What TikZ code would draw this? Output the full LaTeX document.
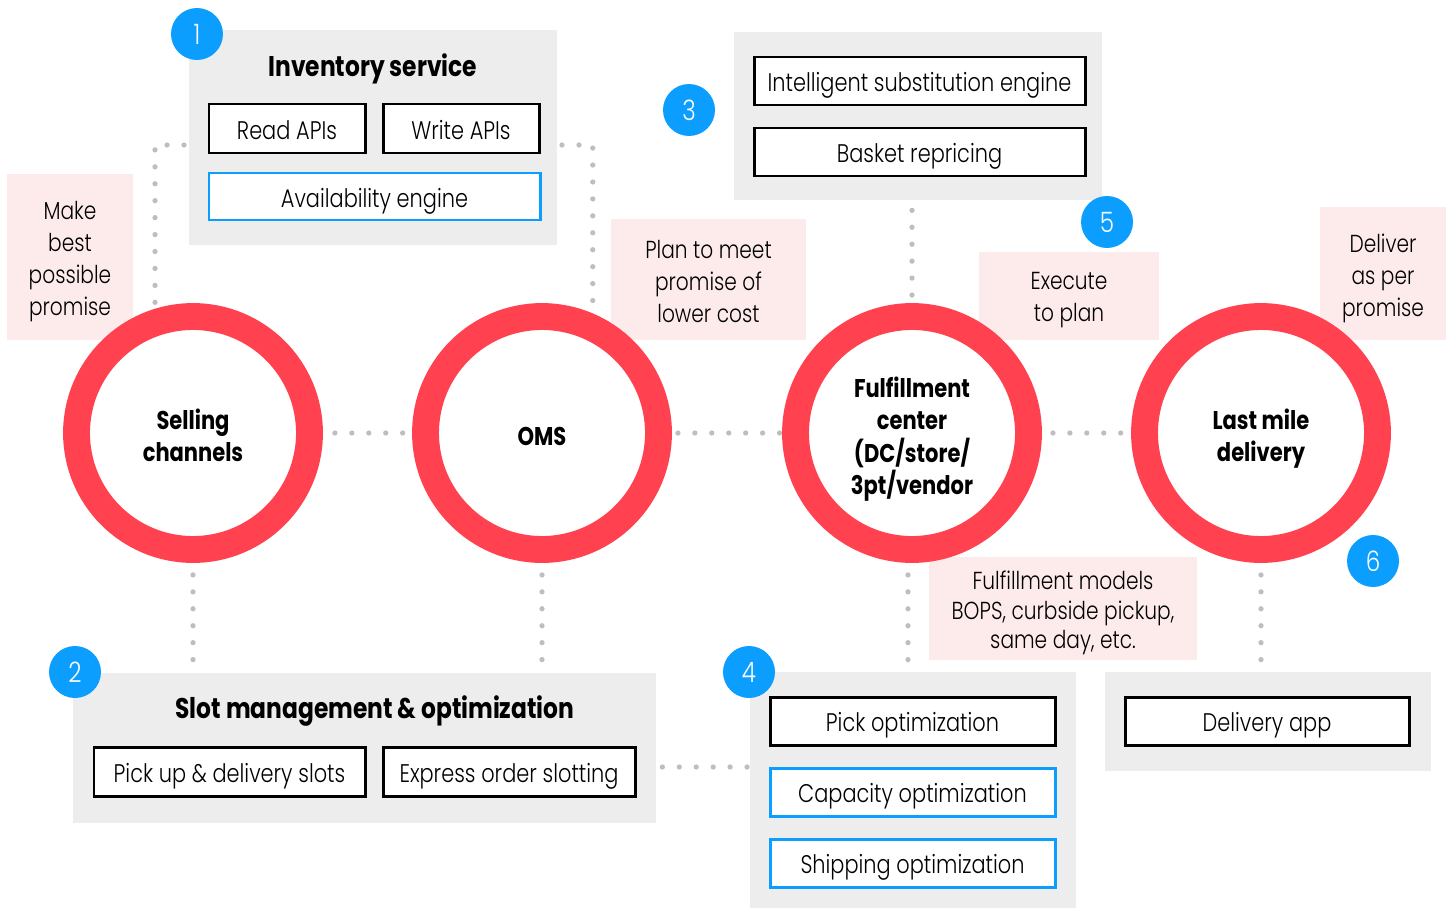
\documentclass[tikz,border=0pt]{standalone}
\usepackage{fontspec}
\setmainfont{Poppins}[UprightFont=* Light, BoldFont=* Bold, FakeStretch=0.82]
\usetikzlibrary{calc}
\definecolor{ringred}{RGB}{255,65,80}
\definecolor{badgeblue}{RGB}{12,158,255}
\definecolor{panelgray}{RGB}{237,237,237}
\definecolor{notepink}{RGB}{253,235,236}
\definecolor{dotgray}{RGB}{190,190,190}
\newcommand\txtfont{\fontsize{14.5}{18}\selectfont}
\newcommand\notefont{\fontsize{14}{18.1}\selectfont}
\newcommand\hdfont{\fontsize{16.2}{18}\selectfont\bfseries}
\newcommand\ringfont{\fontsize{14.6}{18.3}\selectfont\bfseries}
\newcommand\rbox[7]{\node[#6, minimum width={(#4-#2)*0.02cm}, minimum height={(#5-#3)*0.02cm}] (#1) at ({(#2+#4)/2},{(#3+#5)/2}) {#7};}
\tikzset{
  panel/.style={fill=panelgray, draw=none, inner sep=0pt},
  item/.style={draw=black, fill=white, line width=1.7pt, inner sep=0pt, font=\txtfont, text height=12.3pt, text depth=0pt},
  blueitem/.style={item, draw=badgeblue},
  note/.style={fill=notepink, draw=none, inner sep=0pt, align=center, font=\notefont},
  notetext/.style={inner sep=0pt, align=center, font=\notefont, execute at begin node=\strut, execute at end node=\strut},
  ring/.style={circle, draw=ringred, line width=15.3pt, fill=white, minimum size=4.66cm, inner sep=0pt},
  ringtext/.style={inner sep=0pt, align=center, font=\ringfont, execute at begin node=\strut, execute at end node=\strut},
  badge/.style={circle, fill=badgeblue, text=white, minimum size=1.04cm, inner sep=0pt, font=\fontsize{16}{18}\selectfont},
  dots/.style={dotgray, line width=3pt, line cap=round, dash pattern=on 0pt off 9.64pt},
  title/.style={inner sep=0pt, font=\hdfont, text height=11.3pt, text depth=0pt}
}
\begin{document}
\begin{tikzpicture}[x=0.02cm, y=-0.02cm]
\useasboundingbox (0,0) rectangle (1452,909);
% panels
\rbox{inv}{189}{30}{557}{245}{panel}{}
\rbox{subst}{734}{32}{1102}{200}{panel}{}
\rbox{slot}{73}{673}{656}{823}{panel}{}
\rbox{opt}{750}{672}{1076}{908}{panel}{}
\rbox{dlv}{1105}{672}{1431}{771}{panel}{}
% titles
\node[title] (invt) at (373,67) {Inventory service};
\node[title] (slott) at (375,709) {Slot management \& optimization};
% items
\rbox{read}{209}{104}{365}{153}{item}{Read APIs}
\rbox{write}{383}{104}{539}{153}{item}{Write APIs}
\rbox{avail}{209}{173}{540}{220}{blueitem}{Availability engine}
\rbox{ise}{754}{57}{1085}{105}{item}{Intelligent substitution engine}
\rbox{basket}{754}{128}{1085}{176}{item}{Basket repricing}
\rbox{pud}{94}{747}{365}{796}{item}{Pick up \& delivery slots}
\rbox{eos}{383}{747}{635}{796}{item}{Express order slotting}
\rbox{pick}{770}{697}{1055}{745}{item}{Pick optimization}
\rbox{cap}{770}{768}{1055}{816}{blueitem}{Capacity optimization}
\rbox{ship}{770}{839}{1055}{887}{blueitem}{Shipping optimization}
\rbox{app}{1125}{697}{1409}{745}{item}{Delivery app}
% notes
\rbox{n1}{7}{174}{133}{340}{note}{}
\rbox{n2}{611}{219}{806}{340}{note}{}
\rbox{n3}{979}{252}{1159}{340}{note}{}
\rbox{n4}{1320}{207}{1446}{340}{note}{}
\rbox{n5}{929}{557}{1197}{660}{note}{}
\node[notetext] (n1t) at (70,263) {Make\\best\\possible\\promise};
\node[notetext] (n2t) at (708.5,286) {Plan to meet\\promise of\\lower cost};
\node[notetext] (n3t) at (1069,302) {Execute\\to plan};
\node[notetext] (n4t) at (1383,280) {Deliver\\as per\\promise};
\node[notetext, font=\fontsize{14}{16.8}\selectfont] (n5t) at (1063,614.5) {Fulfillment models\\BOPS, curbside pickup,\\same day, etc.};
% ring node positions
\coordinate (csc) at (193,433);
\coordinate (coms) at (542,433);
\coordinate (cfc) at (912,433);
\coordinate (clm) at (1261,433);
\coordinate (p1) at (184,145);
\coordinate (p2) at (562,145);
\coordinate (p3) at (700,767);
% rings
\node[ring] (sc) at (csc) {};
\node[ring] (oms) at (coms) {};
\node[ring] (fc) at (cfc) {};
\node[ring] (lm) at (clm) {};
\node[ringtext] (sct) at (193,440) {Selling\\channels};
\node[ringtext] (omst) at (542,439) {OMS};
\node[ringtext] (fct) at (912,440.5) {Fulfillment\\center\\(DC/store/\\3pt/vendor};
\node[ringtext] (lmt) at (1261,440) {Last mile\\delivery};
% dotted connectors
\draw[dots] (p1) -| ([yshift=0.1cm]sc.107);
\draw[dots] (p2) -| ([yshift=0.1cm]oms.67);
\draw[dots, shorten <=0.24cm, shorten >=0.18cm] (sc.east) -- (oms.west);
\draw[dots, shorten <=0.12cm, shorten >=0.04cm] (oms.east) -- (fc.west);
\draw[dots, shorten <=0.22cm, shorten >=0.2cm] (fc.east) -- (lm.west);
\draw[dots, shorten <=0.2cm, shorten >=0.16cm] (subst.south -| fc) -- (fc.north);
\draw[dots, shorten <=0.24cm, shorten >=0.26cm] (sc.south) -- (slot.north -| sc);
\draw[dots, shorten <=0.24cm, shorten >=0.26cm] (oms.south) -- (slot.north -| oms);
\draw[dots, shorten <=0.24cm, shorten >=0.24cm] ([xshift=-0.08cm]fc.south) -- ([xshift=-0.08cm]opt.north -| fc);
\draw[dots, shorten <=0.24cm, shorten >=0.24cm] (lm.south) -- (dlv.north -| lm);
\draw[dots, shorten <=0.12cm, shorten >=0.02cm] (slot.east |- p3) -- (opt.west |- p3);
% badges
\node[badge] (b1) at (197,34) {1};
\node[badge] (b2) at (75,672) {2};
\node[badge] (b3) at (689,110) {3};
\node[badge] (b4) at (749,672) {4};
\node[badge] (b5) at (1107,222) {5};
\node[badge] (b6) at (1373,561) {6};
\end{tikzpicture}
\end{document}
